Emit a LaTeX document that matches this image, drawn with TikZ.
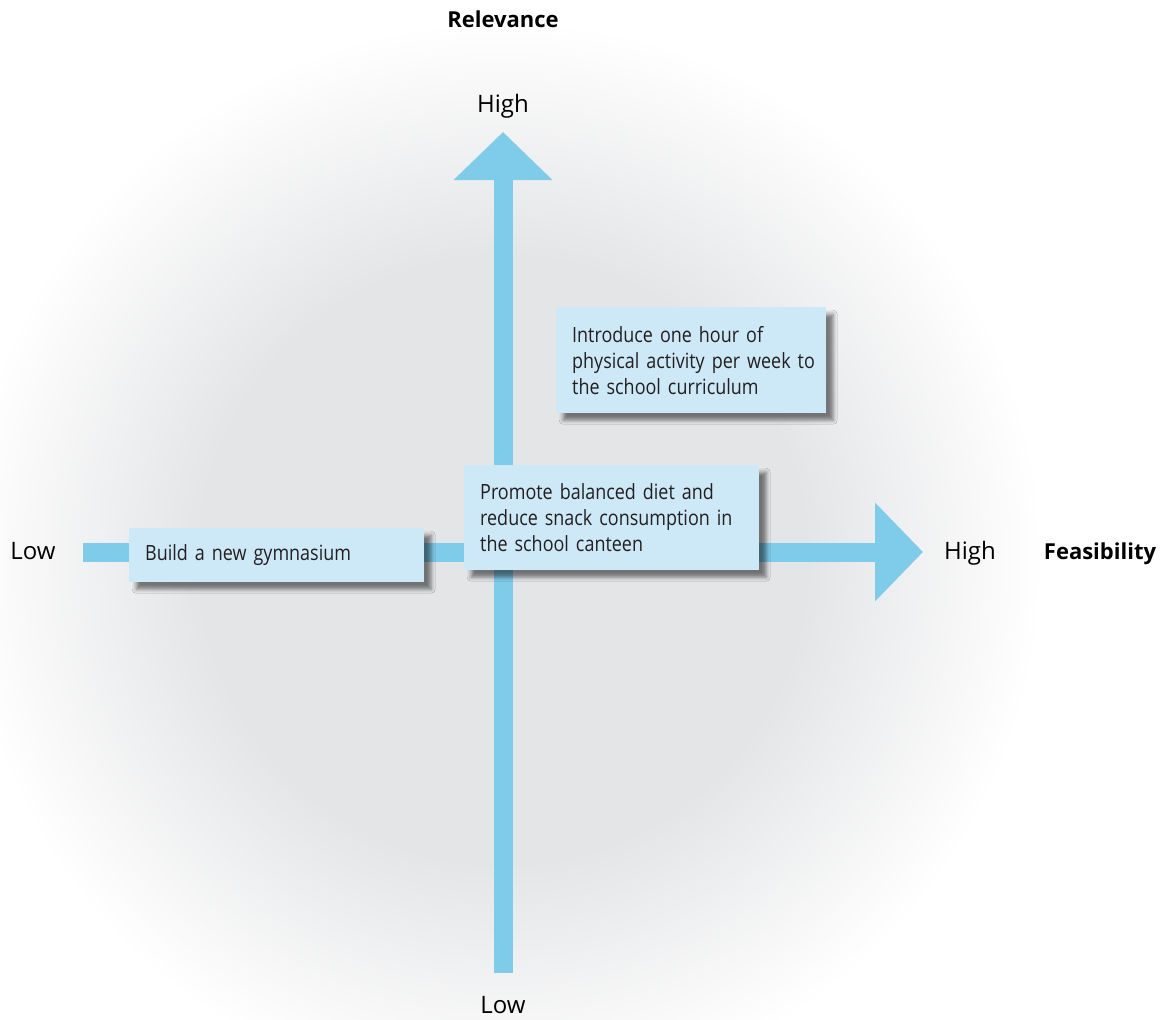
\documentclass[tikz,border=0pt]{standalone}
\usepackage{fontspec}
\setmainfont{Open Sans}
\newfontfamily\narrowfont[FakeStretch=0.855]{Open Sans}
\usetikzlibrary{arrows.meta,shadows.blur}
\definecolor{axisblue}{RGB}{127,203,234}
\definecolor{boxblue}{RGB}{205,233,247}
\definecolor{discgray}{RGB}{228,229,231}
\definecolor{inkgray}{RGB}{35,31,32}
\pgfdeclareradialshading{disc}{\pgfpointorigin}{color(0bp)=(discgray); color(14bp)=(discgray); color(25bp)=(white); color(50bp)=(white)}

\begin{document}
\begin{tikzpicture}[x=1pt, y=-1pt,
  axis/.style = {line width=19pt, draw=axisblue, -{Triangle[width=96pt, length=48pt]}},
  label/.style = {anchor=base, font=\fontsize{24}{28}\selectfont, text=black},
  title/.style = {anchor=base, font=\fontsize{22}{26}\selectfont\bfseries, text=black},
  idea/.style = {fill=boxblue, anchor=north west, inner xsep=16pt, align=left, text=inkgray,
                 font=\narrowfont\fontsize{21}{26}\selectfont,
                 blur shadow={shadow xshift=7pt, shadow yshift=-7pt, shadow blur radius=4pt, shadow opacity=50}}
  ]
  \useasboundingbox (0,0) rectangle (1170,1020);
  \shade[shading=disc] (503,560) circle[radius=540pt];

  \coordinate (vlow) at (503,973);
  \coordinate (vhigh) at (503,132);
  \coordinate (hlow) at (83,552);
  \coordinate (hhigh) at (923,552);
  \draw[axis] (vlow) -- (vhigh);
  \draw[axis] (hlow) -- (hhigh);

  \node[title] (relevance) at (503,27) {Relevance};
  \node[label] (relhigh) at (503,112) {High};
  \node[label] (rellow) at (503,1013) {Low};
  \node[label] (feaslow) at (33,559) {Low};
  \node[label] (feashigh) at (970,559) {High};
  \node[title] (feasibility) at (1100,559) {Feasibility};

  \node[idea, text width=238pt, minimum height=106pt] (activity) at (556,307)
    {Introduce one hour of\\\mbox{physical activity per week to}\\the school curriculum};
  \node[idea, text width=263pt, minimum height=105pt] (diet) at (464,465)
    {Promote balanced diet and\\reduce snack consumption in\\the school canteen};
  \node[idea, text width=263pt, minimum height=54pt] (gym) at (129,528)
    {Build a new gymnasium};
\end{tikzpicture}
\end{document}
